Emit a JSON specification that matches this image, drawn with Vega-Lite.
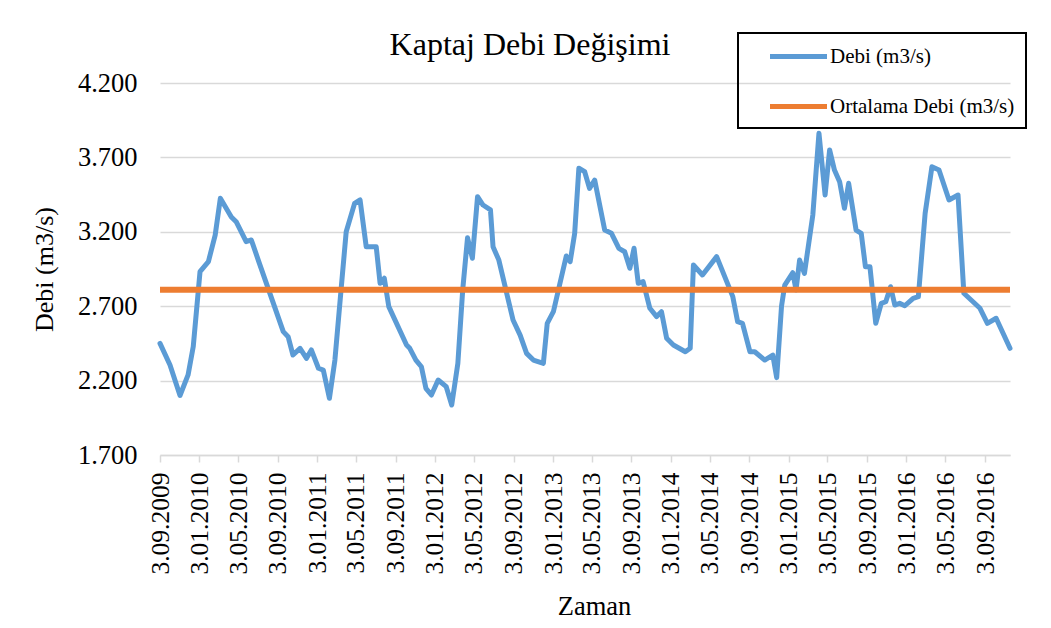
{
  "$schema": "https://vega.github.io/schema/vega-lite/v6.json",
  "width": 850,
  "height": 372,
  "autosize": {"type": "none"},
  "padding": {"left": 160, "top": 83, "right": 41, "bottom": 173},
  "background": "white",
  "config": {"font": "Liberation Serif", "view": {"stroke": null}, "legend": {"strokeWidth": 2}},
  "title": {"text": "Kaptaj Debi Değişimi", "fontSize": 32, "font": "Liberation Serif", "fontWeight": "normal", "color": "black", "anchor": "middle", "dx": -55, "offset": -30},
  "data": {"values": [
    {"tarih": "2009-09-03", "debi": 2.45, "seri": "Debi (m3/s)"},
    {"tarih": "2009-10-04", "debi": 2.305, "seri": "Debi (m3/s)"},
    {"tarih": "2009-11-04", "debi": 2.1, "seri": "Debi (m3/s)"},
    {"tarih": "2009-11-29", "debi": 2.238, "seri": "Debi (m3/s)"},
    {"tarih": "2009-12-15", "debi": 2.428, "seri": "Debi (m3/s)"},
    {"tarih": "2010-01-05", "debi": 2.932, "seri": "Debi (m3/s)"},
    {"tarih": "2010-01-31", "debi": 3.0, "seri": "Debi (m3/s)"},
    {"tarih": "2010-02-21", "debi": 3.178, "seri": "Debi (m3/s)"},
    {"tarih": "2010-03-09", "debi": 3.425, "seri": "Debi (m3/s)"},
    {"tarih": "2010-04-12", "debi": 3.3, "seri": "Debi (m3/s)"},
    {"tarih": "2010-04-27", "debi": 3.268, "seri": "Debi (m3/s)"},
    {"tarih": "2010-05-28", "debi": 3.134, "seri": "Debi (m3/s)"},
    {"tarih": "2010-06-13", "debi": 3.145, "seri": "Debi (m3/s)"},
    {"tarih": "2010-07-08", "debi": 2.988, "seri": "Debi (m3/s)"},
    {"tarih": "2010-09-20", "debi": 2.529, "seri": "Debi (m3/s)"},
    {"tarih": "2010-10-05", "debi": 2.495, "seri": "Debi (m3/s)"},
    {"tarih": "2010-10-20", "debi": 2.372, "seri": "Debi (m3/s)"},
    {"tarih": "2010-11-11", "debi": 2.417, "seri": "Debi (m3/s)"},
    {"tarih": "2010-12-01", "debi": 2.35, "seri": "Debi (m3/s)"},
    {"tarih": "2010-12-16", "debi": 2.406, "seri": "Debi (m3/s)"},
    {"tarih": "2011-01-07", "debi": 2.283, "seri": "Debi (m3/s)"},
    {"tarih": "2011-01-22", "debi": 2.271, "seri": "Debi (m3/s)"},
    {"tarih": "2011-02-10", "debi": 2.081, "seri": "Debi (m3/s)"},
    {"tarih": "2011-02-27", "debi": 2.338, "seri": "Debi (m3/s)"},
    {"tarih": "2011-03-18", "debi": 2.809, "seri": "Debi (m3/s)"},
    {"tarih": "2011-04-03", "debi": 3.2, "seri": "Debi (m3/s)"},
    {"tarih": "2011-04-29", "debi": 3.391, "seri": "Debi (m3/s)"},
    {"tarih": "2011-05-16", "debi": 3.414, "seri": "Debi (m3/s)"},
    {"tarih": "2011-06-04", "debi": 3.1, "seri": "Debi (m3/s)"},
    {"tarih": "2011-07-05", "debi": 3.1, "seri": "Debi (m3/s)"},
    {"tarih": "2011-07-17", "debi": 2.854, "seri": "Debi (m3/s)"},
    {"tarih": "2011-07-30", "debi": 2.888, "seri": "Debi (m3/s)"},
    {"tarih": "2011-08-13", "debi": 2.697, "seri": "Debi (m3/s)"},
    {"tarih": "2011-10-07", "debi": 2.439, "seri": "Debi (m3/s)"},
    {"tarih": "2011-10-17", "debi": 2.417, "seri": "Debi (m3/s)"},
    {"tarih": "2011-11-05", "debi": 2.338, "seri": "Debi (m3/s)"},
    {"tarih": "2011-11-22", "debi": 2.293, "seri": "Debi (m3/s)"},
    {"tarih": "2011-12-06", "debi": 2.148, "seri": "Debi (m3/s)"},
    {"tarih": "2011-12-23", "debi": 2.103, "seri": "Debi (m3/s)"},
    {"tarih": "2012-01-13", "debi": 2.204, "seri": "Debi (m3/s)"},
    {"tarih": "2012-02-07", "debi": 2.159, "seri": "Debi (m3/s)"},
    {"tarih": "2012-02-24", "debi": 2.036, "seri": "Debi (m3/s)"},
    {"tarih": "2012-03-14", "debi": 2.316, "seri": "Debi (m3/s)"},
    {"tarih": "2012-03-29", "debi": 2.809, "seri": "Debi (m3/s)"},
    {"tarih": "2012-04-13", "debi": 3.16, "seri": "Debi (m3/s)"},
    {"tarih": "2012-04-28", "debi": 3.022, "seri": "Debi (m3/s)"},
    {"tarih": "2012-05-14", "debi": 3.436, "seri": "Debi (m3/s)"},
    {"tarih": "2012-05-31", "debi": 3.38, "seri": "Debi (m3/s)"},
    {"tarih": "2012-06-23", "debi": 3.347, "seri": "Debi (m3/s)"},
    {"tarih": "2012-07-01", "debi": 3.1, "seri": "Debi (m3/s)"},
    {"tarih": "2012-07-19", "debi": 3.01, "seri": "Debi (m3/s)"},
    {"tarih": "2012-09-01", "debi": 2.607, "seri": "Debi (m3/s)"},
    {"tarih": "2012-09-23", "debi": 2.506, "seri": "Debi (m3/s)"},
    {"tarih": "2012-10-13", "debi": 2.383, "seri": "Debi (m3/s)"},
    {"tarih": "2012-11-03", "debi": 2.338, "seri": "Debi (m3/s)"},
    {"tarih": "2012-12-04", "debi": 2.316, "seri": "Debi (m3/s)"},
    {"tarih": "2012-12-16", "debi": 2.585, "seri": "Debi (m3/s)"},
    {"tarih": "2013-01-04", "debi": 2.663, "seri": "Debi (m3/s)"},
    {"tarih": "2013-02-13", "debi": 3.037, "seri": "Debi (m3/s)"},
    {"tarih": "2013-02-25", "debi": 2.999, "seri": "Debi (m3/s)"},
    {"tarih": "2013-03-11", "debi": 3.19, "seri": "Debi (m3/s)"},
    {"tarih": "2013-03-24", "debi": 3.627, "seri": "Debi (m3/s)"},
    {"tarih": "2013-04-11", "debi": 3.604, "seri": "Debi (m3/s)"},
    {"tarih": "2013-04-26", "debi": 3.492, "seri": "Debi (m3/s)"},
    {"tarih": "2013-05-12", "debi": 3.548, "seri": "Debi (m3/s)"},
    {"tarih": "2013-06-12", "debi": 3.212, "seri": "Debi (m3/s)"},
    {"tarih": "2013-07-03", "debi": 3.19, "seri": "Debi (m3/s)"},
    {"tarih": "2013-07-26", "debi": 3.089, "seri": "Debi (m3/s)"},
    {"tarih": "2013-08-13", "debi": 3.066, "seri": "Debi (m3/s)"},
    {"tarih": "2013-08-29", "debi": 2.955, "seri": "Debi (m3/s)"},
    {"tarih": "2013-09-11", "debi": 3.089, "seri": "Debi (m3/s)"},
    {"tarih": "2013-09-24", "debi": 2.854, "seri": "Debi (m3/s)"},
    {"tarih": "2013-10-09", "debi": 2.865, "seri": "Debi (m3/s)"},
    {"tarih": "2013-10-30", "debi": 2.686, "seri": "Debi (m3/s)"},
    {"tarih": "2013-11-20", "debi": 2.63, "seri": "Debi (m3/s)"},
    {"tarih": "2013-12-05", "debi": 2.663, "seri": "Debi (m3/s)"},
    {"tarih": "2013-12-21", "debi": 2.484, "seri": "Debi (m3/s)"},
    {"tarih": "2014-01-11", "debi": 2.439, "seri": "Debi (m3/s)"},
    {"tarih": "2014-02-17", "debi": 2.394, "seri": "Debi (m3/s)"},
    {"tarih": "2014-03-04", "debi": 2.417, "seri": "Debi (m3/s)"},
    {"tarih": "2014-03-14", "debi": 2.977, "seri": "Debi (m3/s)"},
    {"tarih": "2014-04-11", "debi": 2.91, "seri": "Debi (m3/s)"},
    {"tarih": "2014-05-25", "debi": 3.033, "seri": "Debi (m3/s)"},
    {"tarih": "2014-07-14", "debi": 2.764, "seri": "Debi (m3/s)"},
    {"tarih": "2014-07-29", "debi": 2.596, "seri": "Debi (m3/s)"},
    {"tarih": "2014-08-13", "debi": 2.585, "seri": "Debi (m3/s)"},
    {"tarih": "2014-09-05", "debi": 2.394, "seri": "Debi (m3/s)"},
    {"tarih": "2014-09-20", "debi": 2.394, "seri": "Debi (m3/s)"},
    {"tarih": "2014-10-21", "debi": 2.338, "seri": "Debi (m3/s)"},
    {"tarih": "2014-11-15", "debi": 2.372, "seri": "Debi (m3/s)"},
    {"tarih": "2014-11-27", "debi": 2.22, "seri": "Debi (m3/s)"},
    {"tarih": "2014-12-12", "debi": 2.7, "seri": "Debi (m3/s)"},
    {"tarih": "2014-12-22", "debi": 2.842, "seri": "Debi (m3/s)"},
    {"tarih": "2015-01-16", "debi": 2.925, "seri": "Debi (m3/s)"},
    {"tarih": "2015-01-26", "debi": 2.809, "seri": "Debi (m3/s)"},
    {"tarih": "2015-02-06", "debi": 3.01, "seri": "Debi (m3/s)"},
    {"tarih": "2015-02-21", "debi": 2.921, "seri": "Debi (m3/s)"},
    {"tarih": "2015-03-19", "debi": 3.313, "seri": "Debi (m3/s)"},
    {"tarih": "2015-04-07", "debi": 3.862, "seri": "Debi (m3/s)"},
    {"tarih": "2015-04-26", "debi": 3.447, "seri": "Debi (m3/s)"},
    {"tarih": "2015-05-10", "debi": 3.75, "seri": "Debi (m3/s)"},
    {"tarih": "2015-05-25", "debi": 3.615, "seri": "Debi (m3/s)"},
    {"tarih": "2015-06-10", "debi": 3.537, "seri": "Debi (m3/s)"},
    {"tarih": "2015-06-25", "debi": 3.358, "seri": "Debi (m3/s)"},
    {"tarih": "2015-07-08", "debi": 3.526, "seri": "Debi (m3/s)"},
    {"tarih": "2015-07-31", "debi": 3.212, "seri": "Debi (m3/s)"},
    {"tarih": "2015-08-16", "debi": 3.19, "seri": "Debi (m3/s)"},
    {"tarih": "2015-08-29", "debi": 2.965, "seri": "Debi (m3/s)"},
    {"tarih": "2015-09-12", "debi": 2.965, "seri": "Debi (m3/s)"},
    {"tarih": "2015-09-30", "debi": 2.585, "seri": "Debi (m3/s)"},
    {"tarih": "2015-10-17", "debi": 2.719, "seri": "Debi (m3/s)"},
    {"tarih": "2015-10-31", "debi": 2.73, "seri": "Debi (m3/s)"},
    {"tarih": "2015-11-15", "debi": 2.831, "seri": "Debi (m3/s)"},
    {"tarih": "2015-11-28", "debi": 2.708, "seri": "Debi (m3/s)"},
    {"tarih": "2015-12-13", "debi": 2.719, "seri": "Debi (m3/s)"},
    {"tarih": "2015-12-29", "debi": 2.703, "seri": "Debi (m3/s)"},
    {"tarih": "2016-01-24", "debi": 2.753, "seri": "Debi (m3/s)"},
    {"tarih": "2016-02-09", "debi": 2.764, "seri": "Debi (m3/s)"},
    {"tarih": "2016-03-01", "debi": 3.324, "seri": "Debi (m3/s)"},
    {"tarih": "2016-03-22", "debi": 3.637, "seri": "Debi (m3/s)"},
    {"tarih": "2016-04-13", "debi": 3.615, "seri": "Debi (m3/s)"},
    {"tarih": "2016-05-14", "debi": 3.414, "seri": "Debi (m3/s)"},
    {"tarih": "2016-06-11", "debi": 3.447, "seri": "Debi (m3/s)"},
    {"tarih": "2016-06-29", "debi": 2.787, "seri": "Debi (m3/s)"},
    {"tarih": "2016-08-18", "debi": 2.686, "seri": "Debi (m3/s)"},
    {"tarih": "2016-09-10", "debi": 2.585, "seri": "Debi (m3/s)"},
    {"tarih": "2016-10-07", "debi": 2.619, "seri": "Debi (m3/s)"},
    {"tarih": "2016-11-19", "debi": 2.417, "seri": "Debi (m3/s)"},
    {"tarih": "2009-09-03", "debi": 2.811, "seri": "Ortalama Debi (m3/s)"},
    {"tarih": "2016-11-19", "debi": 2.811, "seri": "Ortalama Debi (m3/s)"}
  ]},
  "encoding": {
    "x": {
      "field": "tarih", "type": "temporal",
      "scale": {"type": "utc", "domain": [{"year": 2009, "month": 9, "date": 3, "utc": true}, {"year": 2016, "month": 11, "date": 19, "utc": true}]},
      "axis": {
        "title": "Zaman",
        "values": [
          {"year": 2009, "month": 9, "date": 3, "utc": true},
          {"year": 2010, "month": 1, "date": 3, "utc": true},
          {"year": 2010, "month": 5, "date": 3, "utc": true},
          {"year": 2010, "month": 9, "date": 3, "utc": true},
          {"year": 2011, "month": 1, "date": 3, "utc": true},
          {"year": 2011, "month": 5, "date": 3, "utc": true},
          {"year": 2011, "month": 9, "date": 3, "utc": true},
          {"year": 2012, "month": 1, "date": 3, "utc": true},
          {"year": 2012, "month": 5, "date": 3, "utc": true},
          {"year": 2012, "month": 9, "date": 3, "utc": true},
          {"year": 2013, "month": 1, "date": 3, "utc": true},
          {"year": 2013, "month": 5, "date": 3, "utc": true},
          {"year": 2013, "month": 9, "date": 3, "utc": true},
          {"year": 2014, "month": 1, "date": 3, "utc": true},
          {"year": 2014, "month": 5, "date": 3, "utc": true},
          {"year": 2014, "month": 9, "date": 3, "utc": true},
          {"year": 2015, "month": 1, "date": 3, "utc": true},
          {"year": 2015, "month": 5, "date": 3, "utc": true},
          {"year": 2015, "month": 9, "date": 3, "utc": true},
          {"year": 2016, "month": 1, "date": 3, "utc": true},
          {"year": 2016, "month": 5, "date": 3, "utc": true},
          {"year": 2016, "month": 9, "date": 3, "utc": true}
        ],
        "format": "%-d.%m.%Y",
        "labelAngle": -90,
        "labelFont": "Liberation Serif",
        "labelFontSize": 25.5,
        "labelColor": "black",
        "labelPadding": 10,
        "labelOverlap": false,
        "labelFlush": false,
        "tickSize": 7,
        "tickWidth": 1.5,
        "tickColor": "#D9D9D9",
        "domainColor": "#D9D9D9",
        "domainWidth": 1.5,
        "grid": false,
        "titleFont": "Liberation Serif",
        "titleFontSize": 26.5,
        "titleFontWeight": "normal",
        "titleColor": "black",
        "titleX": 434,
        "titleY": 151,
        "titleAlign": "center",
        "titleBaseline": "middle"
      }
    },
    "y": {
      "field": "debi", "type": "quantitative",
      "scale": {"domain": [1.7, 4.2], "zero": false, "nice": false},
      "axis": {
        "title": "Debi (m3/s)",
        "values": [1.7, 2.2, 2.7, 3.2, 3.7, 4.2],
        "format": ".3f",
        "domain": false,
        "ticks": false,
        "labelPadding": 23,
        "labelFont": "Liberation Serif",
        "labelFontSize": 26.5,
        "labelColor": "black",
        "gridColor": "#D9D9D9",
        "gridWidth": 1.5,
        "titleFont": "Liberation Serif",
        "titleFontSize": 26,
        "titleFontWeight": "normal",
        "titleColor": "black",
        "titleAngle": -90,
        "titleX": -116,
        "titleY": 186,
        "titleAlign": "center",
        "titleBaseline": "middle"
      }
    },
    "color": {
      "field": "seri", "type": "nominal",
      "scale": {"domain": ["Debi (m3/s)", "Ortalama Debi (m3/s)"], "range": ["#5B9BD5", "#ED7D31"]},
      "legend": {
        "title": null,
        "orient": "none",
        "legendX": 578,
        "legendY": -50,
        "direction": "vertical",
        "strokeColor": "black",
        "padding": 11,
        "symbolType": "M-2.85,0H2.85",
        "symbolSize": 400,
        "symbolStrokeWidth": 5,
        "symbolOffset": 37,
        "labelFont": "Liberation Serif",
        "labelFontSize": 21,
        "labelColor": "black",
        "labelOffset": 19,
        "labelLimit": 600,
        "rowPadding": 27,
        "labelExpr": "datum.label + '\u00a0\u00a0\u00a0\u00a0\u00a0\u00a0\u00a0\u00a0\u00a0\u00a0'"
      }
    }
  },
  "layer": [
    {
      "transform": [{"filter": "datum.seri === 'Debi (m3/s)'"}],
      "mark": {"type": "line", "strokeWidth": 5, "strokeJoin": "round", "strokeCap": "round"}
    },
    {
      "transform": [{"filter": "datum.seri === 'Ortalama Debi (m3/s)'"}],
      "mark": {"type": "line", "strokeWidth": 6, "strokeCap": "butt"}
    }
  ]
}
